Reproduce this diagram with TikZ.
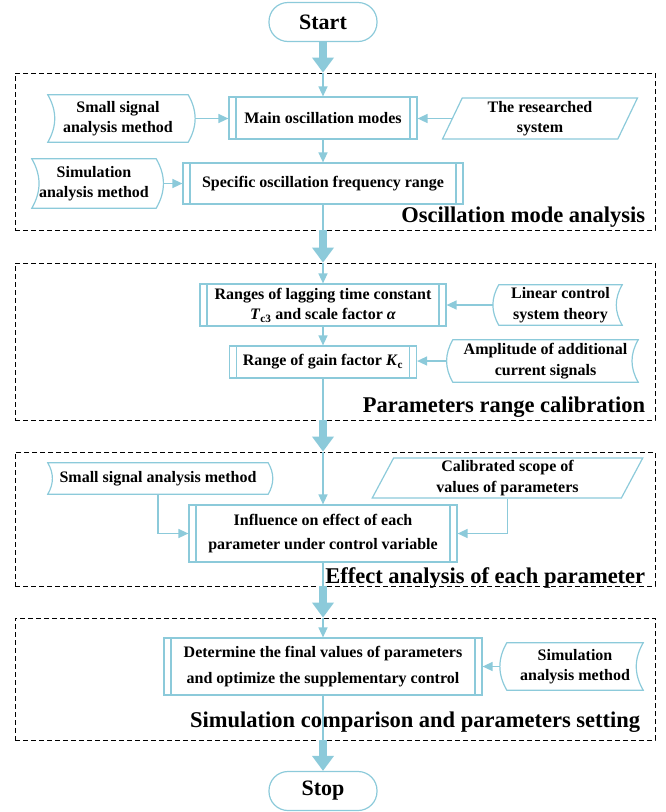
\documentclass[tikz,border=0pt]{standalone}
\usepackage{fontspec}
\setmainfont{Liberation Serif}
\usetikzlibrary{shapes.geometric,arrows.meta}
\definecolor{flowblue}{RGB}{140,202,218}

\begin{document}
\begin{tikzpicture}[x=1pt, y=-1pt,
    every node/.style={align=center, font=\bfseries\fontsize{16}{20.5}\selectfont},
    boxline/.style={draw=flowblue, line width=1.2pt},
    process/.style={boxline, fill=white, inner sep=2pt,
      path picture={\draw[flowblue, line width=1.2pt]
        ([xshift=7pt]path picture bounding box.north west) -- ([xshift=7pt]path picture bounding box.south west)
        ([xshift=-7pt]path picture bounding box.north east) -- ([xshift=-7pt]path picture bounding box.south east);}},
    terminal/.style={boxline, rounded corners=19pt, minimum width=108pt, minimum height=39pt,
      font=\bfseries\fontsize{22}{26}\selectfont},
    store/.style={inner sep=2pt},
    data/.style={boxline, trapezium, trapezium left angle=70, trapezium right angle=110,
      trapezium stretches=true, inner sep=1pt},
    frame/.style={draw, dash pattern=on 5pt off 3pt, line width=0.8pt},
    seclabel/.style={font=\bfseries\fontsize{22.5}{26}\selectfont, inner sep=0pt},
    smallline/.style={flowblue, line width=1.5pt},
    smallarrow/.style={smallline, -{Triangle[length=10pt,width=9pt]}},
    bigarrow/.style={flowblue, line width=8pt, -{Triangle[length=15pt,width=21pt]}}]

  \useasboundingbox (0,0) rectangle (666,812);

  \node[frame, minimum width=640pt, minimum height=157pt] (sec1) at (335,151.5) {};
  \node[frame, minimum width=640pt, minimum height=157pt] (sec2) at (335,341.5) {};
  \node[frame, minimum width=640pt, minimum height=134pt] (sec3) at (335,519) {};
  \node[frame, minimum width=640pt, minimum height=122pt] (sec4) at (335,679) {};

  \node[seclabel, anchor=base east] (lab1) at ([xshift=-10pt,yshift=8pt]sec1.south east) {Oscillation mode analysis};
  \node[seclabel, anchor=base east] (lab2) at ([xshift=-10pt,yshift=8pt]sec2.south east) {Parameters range calibration};
  \node[seclabel, anchor=base east] (lab3) at ([xshift=-10pt,yshift=3pt]sec3.south east) {Effect analysis of each parameter};
  \node[seclabel, anchor=base east] (lab4) at ([xshift=-15pt,yshift=13pt]sec4.south east) {Simulation comparison and parameters setting};

  \node[terminal] (start) at (323,22) {Start};
  \node[process, minimum width=188pt, minimum height=42pt] (main) at (323,118) {Main oscillation modes};
  \node[store, minimum width=140pt, minimum height=47pt] (small1) at (118,118.5) {Small signal\\analysis method};
  \node[data, minimum width=195pt, minimum height=41pt] (researched) at (540,118.5) {The researched\\system};
  \node[store, minimum width=124pt, minimum height=49pt] (sim1) at (94,183.5) {Simulation\\analysis method};
  \node[process, minimum width=280pt, minimum height=41pt] (specific) at (323,183.5) {Specific oscillation frequency range};

  \node[process, minimum width=246pt, minimum height=42pt] (ranges) at (323,305) {Ranges of lagging time constant\\\textit{T}\textsubscript{c3} and scale factor \textit{α}};
  \node[store, minimum width=123pt, minimum height=40pt] (linear) at (560.5,305) {Linear control\\system theory};
  \node[process, minimum width=187pt, minimum height=32pt] (gain) at (323,362) {Range of gain factor \textit{K}\textsubscript{c}};
  \node[store, minimum width=185pt, minimum height=42pt] (amplitude) at (545.5,361) {Amplitude of additional\\current signals};

  \node[store, minimum width=220pt, minimum height=31pt] (small2) at (158,478.5) {Small signal analysis method};
  \node[data, minimum width=271pt, minimum height=40pt] (calib) at (507.5,478) {Calibrated scope of\\values of parameters};
  \node[process, minimum width=268pt, minimum height=57pt] (influence) at (323,533.5) {Influence on effect of each\\[4pt]parameter under control variable};

  \node[process, minimum width=318pt, minimum height=57pt] (determine) at (323,666.5) {Determine the final values of parameters\\[5pt]and optimize the supplementary control};
  \node[store, minimum width=136pt, minimum height=47pt] (sim2) at (575,666.5) {Simulation\\analysis method};
  \node[terminal] (stop) at (323,791) {Stop};

  \foreach \n in {small1,sim1,small2}{
    \draw[boxline] (\n.north west) to[bend left=30] (\n.south west) -- (\n.south east)
      to[bend right=30] (\n.north east) -- cycle;
  }
  \foreach \n in {linear,amplitude,sim2}{
    \draw[boxline] (\n.north west) to[bend right=30] (\n.south west) -- (\n.south east)
      to[bend left=30] (\n.north east) -- cycle;
  }

  \draw[bigarrow] (start) -- (start |- sec1.north);
  \draw[smallarrow] (start |- sec1.north) -- (main);
  \draw[smallarrow] ([xshift=7pt]small1.east) -- (small1.east -| main.west);
  \draw[smallarrow] (researched.west) -- (researched.west -| main.east);
  \draw[smallarrow] (main) -- (specific);
  \draw[smallarrow] ([xshift=7pt]sim1.east) -- (sim1.east -| specific.west);
  \draw[smallline] (specific) -- (specific |- sec1.south);
  \draw[bigarrow] (specific |- sec1.south) -- (specific |- sec2.north);

  \draw[smallarrow] (specific |- sec2.north) -- (ranges);
  \draw[smallarrow] ([xshift=-6pt]linear.west) -- (linear.west -| ranges.east);
  \draw[smallarrow] (ranges) -- (gain);
  \draw[smallarrow] ([xshift=-6pt]amplitude.west) -- (amplitude.west -| gain.east);
  \draw[smallline] (gain) -- (gain |- sec2.south);
  \draw[bigarrow] (gain |- sec2.south) -- (gain |- sec3.north);

  \draw[smallarrow] (gain |- sec3.north) -- (influence);
  \draw[smallarrow] (small2) |- (influence);
  \draw[smallarrow] (calib) |- (influence);
  \draw[smallline] (influence) -- (influence |- sec3.south);
  \draw[bigarrow] (influence |- sec3.south) -- (influence |- sec4.north);

  \draw[smallarrow] (influence |- sec4.north) -- (determine);
  \draw[smallarrow] ([xshift=-7pt]sim2.west) -- (sim2.west -| determine.east);
  \draw[smallline] (determine) -- (determine |- sec4.south);
  \draw[bigarrow] (determine |- sec4.south) -- (stop);
\end{tikzpicture}
\end{document}
